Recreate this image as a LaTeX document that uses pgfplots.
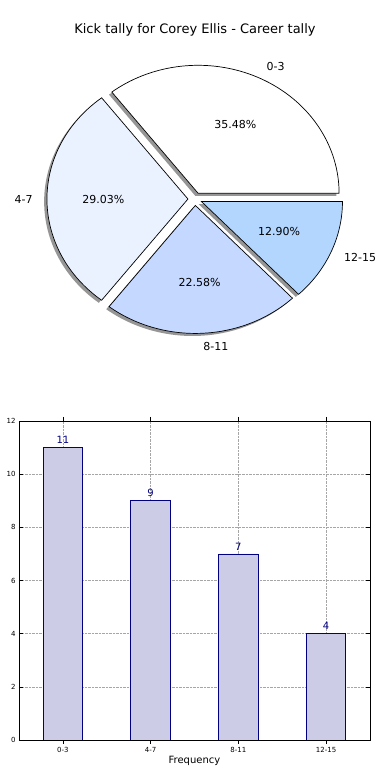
\documentclass[border=0pt]{standalone}
\usepackage{pgfplots}
\pgfplotsset{compat=1.18}
\usepackage{fontspec}
\setmainfont{DejaVu Sans}
\definecolor{navyc}{RGB}{0,0,128}
\definecolor{barfill}{RGB}{204,204,230}
\definecolor{cA}{RGB}{255,255,255}
\definecolor{cB}{RGB}{234,242,255}
\definecolor{cC}{RGB}{197,216,255}
\definecolor{cD}{RGB}{179,214,255}
\definecolor{shadowc}{RGB}{150,150,150}
% counts per range: 0-3, 4-7, 8-11, 12-15
\def\vA{11}\def\vB{9}\def\vC{7}\def\vD{4}
\pgfmathsetmacro{\tot}{\vA+\vB+\vC+\vD}
\pgfmathsetmacro{\aA}{0}
\pgfmathsetmacro{\aB}{360*\vA/\tot}
\pgfmathsetmacro{\aC}{360*(\vA+\vB)/\tot}
\pgfmathsetmacro{\aD}{360*(\vA+\vB+\vC)/\tot}
\pgfmathsetmacro{\aE}{360}
\begin{document}
\begin{tikzpicture}
\begin{axis}[at={(0pt,380pt)}, anchor=south west, scale only axis,
  width=390pt, height=400pt,
  xmin=-1.383, xmax=1.383, ymin=-1.570, ymax=1.555,
  hide axis, clip=false]
% shadows
\foreach \s/\e in {\aA/\aB,\aB/\aC,\aC/\aD,\aD/\aE}{
  \pgfmathsetmacro{\md}{(\s+\e)/2}
  \pgfmathsetmacro{\ox}{0.05*cos(\md)-0.02}
  \pgfmathsetmacro{\oy}{0.05*sin(\md)-0.02}
  \edef\temp{\noexpand\addplot[draw=none, fill=shadowc, domain=\s:\e, samples=90, variable=\noexpand\t]
    ({\ox+cos(\noexpand\t)}, {\oy+sin(\noexpand\t)}) -- (axis cs:\ox,\oy) -- cycle;}
  \temp
}
% wedges
\foreach \s/\e/\c in {\aA/\aB/cA,\aB/\aC/cB,\aC/\aD/cC,\aD/\aE/cD}{
  \pgfmathsetmacro{\md}{(\s+\e)/2}
  \pgfmathsetmacro{\ox}{0.05*cos(\md)}
  \pgfmathsetmacro{\oy}{0.05*sin(\md)}
  \edef\temp{\noexpand\addplot[draw=black, line width=0.7pt, line join=miter, fill=\c, domain=\s:\e, samples=90, variable=\noexpand\t]
    ({\ox+cos(\noexpand\t)}, {\oy+sin(\noexpand\t)}) -- (axis cs:\ox,\oy) -- cycle;}
  \temp
}
% labels
\foreach \s/\e/\l/\p in {\aA/\aB/0-3/35.48,\aB/\aC/4-7/29.03,\aC/\aD/8-11/22.58,\aD/\aE/12-15/12.90}{
  \pgfmathsetmacro{\md}{(\s+\e)/2}
  \pgfmathsetmacro{\ox}{0.05*cos(\md)}
  \pgfmathsetmacro{\oy}{0.05*sin(\md)}
  \pgfmathsetmacro{\lx}{\ox+1.1*cos(\md)}
  \pgfmathsetmacro{\ly}{\oy+1.1*sin(\md)}
  \pgfmathsetmacro{\px}{\ox+0.6*cos(\md)}
  \pgfmathsetmacro{\py}{\oy+0.6*sin(\md)}
  \pgfmathsetmacro{\anc}{cos(\md)>0 ? 1 : 0}
  \ifdim\anc pt>0.5pt
    \edef\temp{\noexpand\node[anchor=west, inner sep=0pt, font=\noexpand\fontsize{11}{13}\noexpand\selectfont] at (axis cs:\lx,\ly) {\l};}
  \else
    \edef\temp{\noexpand\node[anchor=east, inner sep=0pt, font=\noexpand\fontsize{11}{13}\noexpand\selectfont] at (axis cs:\lx,\ly) {\l};}
  \fi
  \temp
  \edef\temp{\noexpand\node[inner sep=0pt, font=\noexpand\fontsize{11}{13}\noexpand\selectfont] at (axis cs:\px,\py) {\p\noexpand\%};}
  \temp
}
\node[font=\fontsize{13}{15}\selectfont] at (rel axis cs:0.5,0.925) {Kick tally for Corey Ellis - Career tally};
\end{axis}

\begin{axis}[at={(19pt,40pt)}, anchor=south west, scale only axis,
  width=351pt, height=319pt,
  xmin=-0.5, xmax=3.5, ymin=0, ymax=12,
  xtick={0,1,2,3}, xticklabels={0-3,4-7,8-11,12-15},
  ytick={0,2,4,6,8,10,12},
  /pgf/number format/assume math mode=true,
  ticklabel style={font=\fontsize{7}{8}\selectfont},
  tick align=inside, tick pos=both, major tick length=4pt,
  tick style={black, line width=0.6pt},
  axis line style={line width=0.8pt},
  grid=major, grid style={densely dotted, black!35, line width=0.6pt},
  xlabel={Frequency}, ylabel={No. of games},
  label style={font=\fontsize{10}{12}\selectfont},
  xlabel style={yshift=3pt},
  ybar, bar width=0.45,
  nodes near coords,
  nodes near coords style={font=\fontsize{10}{12}\selectfont, text=navyc, inner sep=1pt, yshift=2.5pt},
]
\addplot[fill=barfill, draw=navyc, line width=0.8pt] coordinates {(0,11) (1,9) (2,7) (3,4)};
\end{axis}
\pgfresetboundingbox
\useasboundingbox (0pt,0pt) rectangle (390pt,780pt);
\end{tikzpicture}
\end{document}
